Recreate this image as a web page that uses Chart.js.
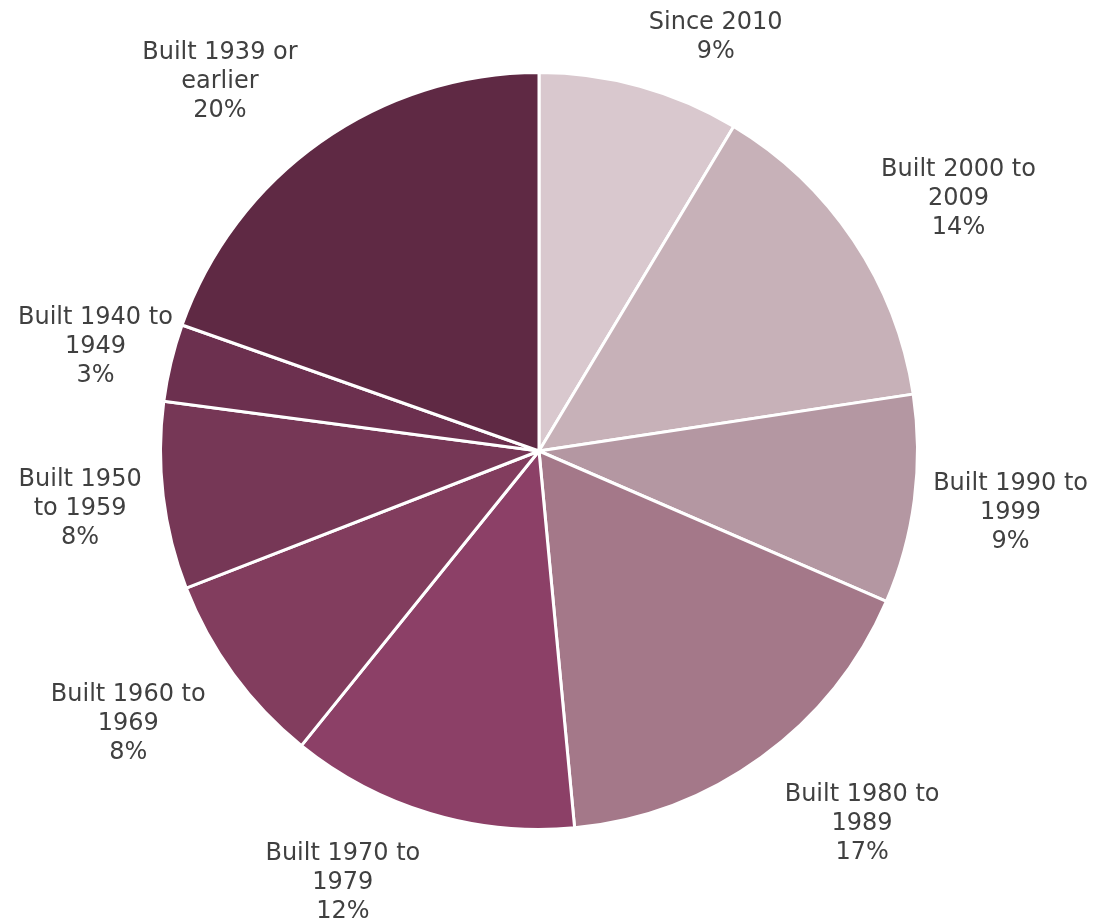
<!DOCTYPE html>
<html>
<head>
<meta charset="utf-8">
<script src="https://cdn.jsdelivr.net/npm/chart.js@4/dist/chart.umd.min.js"></script>
<style>
  html, body { margin: 0; padding: 0; background: #fff; }
  #wrap { width: 1106px; height: 921px; }
</style>
</head>
<body>
<div id="wrap"><canvas id="pie"></canvas></div>
<script>
const categories = ['Since 2010', 'Built 2000 to 2009', 'Built 1990 to 1999', 'Built 1980 to 1989',
  'Built 1970 to 1979', 'Built 1960 to 1969', 'Built 1950 to 1959', 'Built 1940 to 1949', 'Built 1939 or earlier'];
const labelLines = [
  ['Since 2010'], ['Built 2000 to', '2009'], ['Built 1990 to', '1999'], ['Built 1980 to', '1989'],
  ['Built 1970 to', '1979'], ['Built 1960 to', '1969'], ['Built 1950', 'to 1959'], ['Built 1940 to', '1949'],
  ['Built 1939 or', 'earlier']
];
const shares = [8.6, 14.0, 8.9, 17.0, 12.3, 8.3, 8.0, 3.3, 19.6];
const colors = ['#D9C8CE', '#C7B1B8', '#B497A2', '#A47889', '#8C4067', '#823D5E', '#763756', '#6C304F', '#5F2944'];

const FONT = '24px "DejaVu Sans", Verdana, sans-serif';
const LINE_H = 29;
const PAD_TOP = 6;

// outside-end labels: the box's nearest corner/edge sits just beyond the arc
const outsideLabels = {
  id: 'outsideLabels',
  afterDatasetsDraw(chart) {
    const ctx = chart.ctx;
    const total = shares.reduce((a, b) => a + b, 0);
    ctx.save();
    ctx.font = FONT;
    ctx.fillStyle = '#404040';
    ctx.textAlign = 'center';
    ctx.textBaseline = 'middle';
    chart.getDatasetMeta(0).data.forEach((arc, i) => {
      const lines = labelLines[i].concat([Math.round(shares[i] / total * 100) + '%']);
      const w = Math.max(...lines.map(l => ctx.measureText(l).width));
      const h = lines.length * LINE_H + PAD_TOP;
      const mid = (arc.startAngle + arc.endAngle) / 2;
      const r = arc.outerRadius + 21;
      const diag = Math.pow(Math.sin(2 * mid), 2);
      const px = arc.x + Math.cos(mid) * r + Math.sign(Math.cos(mid)) * 12 * diag;
      const py = arc.y + Math.sin(mid) * r;
      const kx = Math.max(-1, Math.min(1, Math.cos(mid) * 4));
      const ky = Math.max(-1, Math.min(1, Math.sin(mid) * 1.25));
      let cx = px + kx * w / 2;
      const top = py + ky * h / 2 - h / 2;
      // keep inside the canvas sideways
      cx = Math.max(18 + w / 2, Math.min(chart.width - 18 - w / 2, cx));
      lines.forEach((l, j) => {
        ctx.fillText(l, cx, top + PAD_TOP + LINE_H * (j + 0.5));
      });
    });
    ctx.restore();
  }
};

new Chart(document.getElementById('pie'), {
  type: 'pie',
  data: {
    labels: categories,
    datasets: [{
      data: shares,
      backgroundColor: colors,
      borderColor: '#ffffff',
      borderWidth: 3
    }]
  },
  options: {
    responsive: true,
    maintainAspectRatio: false,
    animation: false,
    layout: { padding: { left: 159, right: 187, top: 71, bottom: 90 } },
    plugins: {
      legend: { display: false },
      tooltip: { enabled: false }
    }
  },
  plugins: [outsideLabels]
});
</script>
</body>
</html>
